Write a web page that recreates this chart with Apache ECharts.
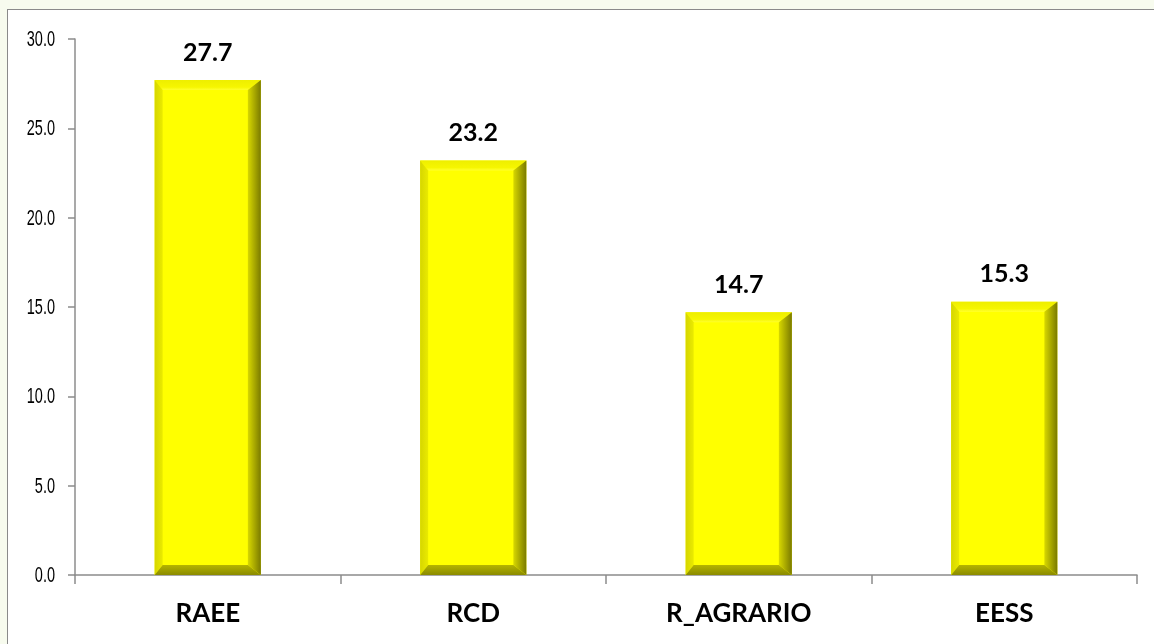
<!DOCTYPE html>
<html><head><meta charset="utf-8">
<script src="https://cdn.jsdelivr.net/npm/echarts@6/dist/echarts.min.js"></script>
<style>
html,body{margin:0;padding:0;width:1154px;height:644px;overflow:hidden;background:#f7fbee;}
#frame{position:absolute;left:7px;top:9px;width:1160px;height:650px;background:#fff;border:1.5px solid #8a8a8a;box-sizing:border-box;}
#chart{position:absolute;left:0;top:0;width:1154px;height:644px;}
</style></head>
<body>
<div id="frame"></div>
<div id="chart"></div>
<script>
const categories = ['RAEE', 'RCD', 'R_AGRARIO', 'EESS'];
const values = [27.7, 23.2, 14.7, 15.3];
const yTicks = [0, 5, 10, 15, 20, 25, 30];

const chart = echarts.init(document.getElementById('chart'));
const BW = 0.4; // bar width as fraction of band
function renderBar(params, api) {
  const idx = api.value(0);
  const v = api.value(1);
  const top = api.coord([idx, v]);
  const base = api.coord([idx, 0]);
  const band = api.size([1, 0])[0];
  const w = band * BW;
  const x0 = top[0] - w / 2, x1 = top[0] + w / 2;
  const y0 = top[1], y1 = base[1];
  const bl = 8, br = 13, bt = 10, bb = 10;
  const poly = (pts, fill) => ({ type: 'polygon', shape: { points: pts }, style: { fill: fill } });
  return {
    type: 'group',
    children: [
      { type: 'rect', shape: { x: x0, y: y0, width: w, height: y1 - y0 }, style: { fill: '#ffff00' } },
      poly([[x0, y0], [x1, y0], [x1 - br, y0 + bt], [x0 + bl, y0 + bt]],
        new echarts.graphic.LinearGradient(0, 0, 0, 1, [{ offset: 0, color: '#eeee00' }, { offset: 0.7, color: '#f6f600' }, { offset: 1, color: '#ffff30' }])),
      poly([[x0, y0], [x0 + bl, y0 + bt], [x0 + bl, y1 - bb], [x0, y1]],
        new echarts.graphic.LinearGradient(0, 0, 1, 0, [{ offset: 0, color: '#d6d600' }, { offset: 1, color: '#eaea00' }])),
      poly([[x1, y0], [x1, y1], [x1 - br, y1 - bb], [x1 - br, y0 + bt]],
        new echarts.graphic.LinearGradient(0, 0, 1, 0, [{ offset: 0, color: '#d8d800' }, { offset: 1, color: '#7a7a00' }])),
      poly([[x0, y1], [x0 + bl, y1 - bb], [x1 - br, y1 - bb], [x1, y1]],
        new echarts.graphic.LinearGradient(0, 0, 0, 1, [{ offset: 0, color: '#b4b400' }, { offset: 1, color: '#8a8a00' }])),
      { type: 'text', x: top[0], y: y0 - 15,
        style: { text: v.toFixed(1), fill: '#000', font: 'bold 25px Lato, "Open Sans", sans-serif', align: 'center', verticalAlign: 'bottom' } }
    ]
  };
}
function renderYLabel(params, api) {
  const v = api.value(0);
  const p = api.coord([0, v]);
  return {
    type: 'text', x: params.coordSys.x - 20, y: p[1] + 1, scaleX: 0.66,
    style: { text: v.toFixed(1), fill: '#000', font: '22px "Liberation Sans", Arial, sans-serif', align: 'right', verticalAlign: 'middle' }
  };
}

chart.setOption({
  animation: false,
  grid: { left: 75, right: 17, top: 39, bottom: 69 },
  xAxis: {
    type: 'category', data: categories,
    axisLine: { lineStyle: { color: '#8c8c8c', width: 1.5 } },
    axisTick: { show: true, length: 9, lineStyle: { color: '#8c8c8c', width: 1.5 } },
    axisLabel: { color: '#000', fontFamily: 'Lato, "Open Sans", sans-serif', fontWeight: 'bold', fontSize: 26, margin: 26 }
  },
  yAxis: {
    type: 'value', min: yTicks[0], max: yTicks[yTicks.length - 1], interval: 5,
    axisLine: { show: true, lineStyle: { color: '#8c8c8c', width: 1.5 } },
    axisTick: { show: true, length: 7, lineStyle: { color: '#8c8c8c', width: 1.5 } },
    splitLine: { show: false },
    axisLabel: { show: false }
  },
  series: [{
    type: 'custom', renderItem: renderBar,
    encode: { x: 0, y: 1 },
    data: values.map((v, i) => [i, v])
  }, {
    type: 'custom', renderItem: renderYLabel, silent: true,
    encode: { y: 0 },
    data: yTicks.map(v => [v])
  }]
});
</script>
</body></html>
